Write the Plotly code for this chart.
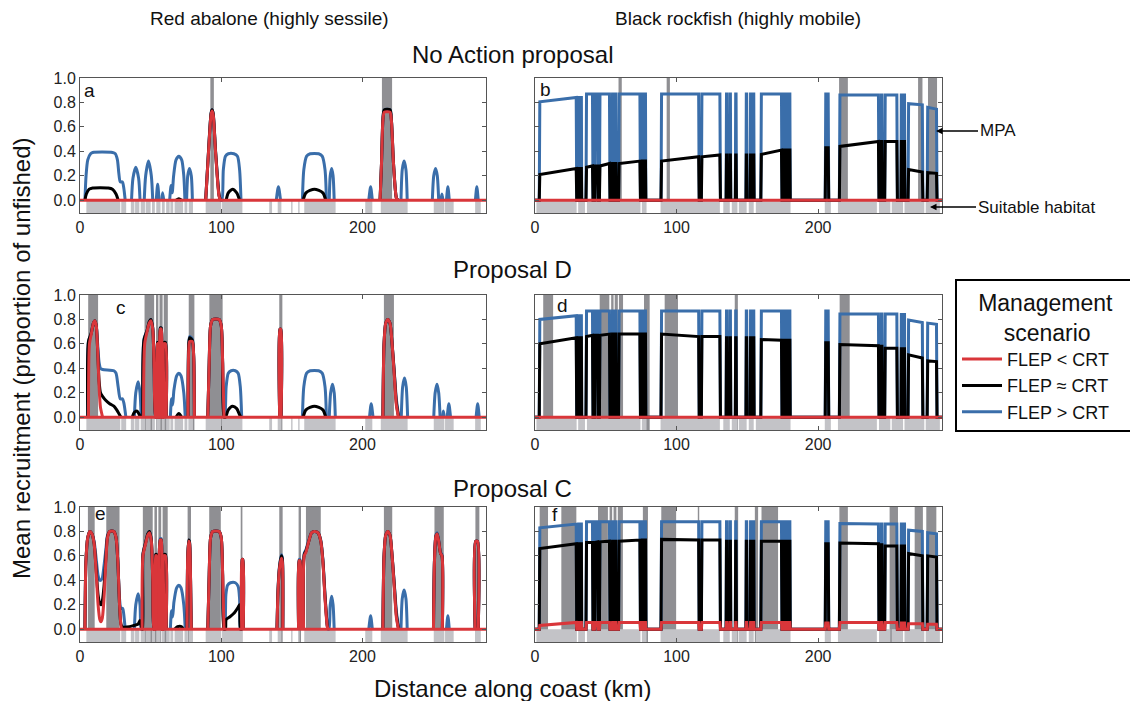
import plotly.graph_objects as go

# ---------------- DATA ----------------
# Abalone (sessile) curves: (km, mean recruitment) points
A_BLUE = [(0,0),(3.5,0),(4.3,0.2),(5.5,0.33),(7.5,0.38),(9,0.39),(23,0.39),(25,0.38),(26.5,0.33),(27.5,0.22),(28.5,0.15),(30,0.15),(31,0.1),(32,0),
          (36.5,0),(37.5,0.18),(39.5,0.27),(41.5,0.18),(42.5,0),
          (45.5,0),(46.5,0.2),(48.5,0.32),(50.5,0.2),(51.5,0),
          (54,0),(55,0.13),(56,0),(57.8,0),(58.5,0.06),(59.3,0),
          (63.5,0),(64.5,0.12),(65.3,0.06),(66.3,0.2),(68,0.33),(70,0.36),(72,0.33),(73.5,0.2),(74.3,0),
          (75.5,0),(76.3,0.2),(77.5,0.26),(78.8,0.2),(79.6,0),
          (89,0),(91,0.4),(92.8,0.71),(93.5,0.74),(94.3,0.71),(96,0.4),(98.5,0.04),(99.5,0),
          (100.5,0),(101.5,0.25),(103,0.36),(105,0.38),(109,0.38),(111.5,0.36),(113,0.25),(114,0),
          (139,0),(140.5,0.11),(142,0),
          (157.5,0),(158.5,0.25),(160.5,0.36),(163,0.38),(169,0.38),(171.5,0.36),(173.5,0.25),(174.5,0),
          (176.5,0),(177.2,0.2),(178.2,0.26),(179.2,0.2),(180,0),
          (204.5,0),(205.8,0.11),(207,0),
          (212.5,0),(213.5,0.3),(214.5,0.66),(215.5,0.74),(219.5,0.74),(220.5,0.66),(222,0.3),(224,0.02),(225,0),
          (227.3,0),(228.2,0.25),(229.5,0.32),(230.8,0.25),(231.7,0),
          (249.5,0),(250.5,0.2),(251.8,0.26),(253,0.2),(254,0),
          (255.5,0),(256.3,0.05),(257,0),
          (259.5,0),(260.5,0.11),(261.5,0),
          (280,0),(281,0.11),(282,0),(287.5,0)]
A_BLACK = [(0,0),(3.5,0),(4.5,0.05),(6.5,0.09),(9,0.1),(20,0.1),(23,0.09),(25.5,0.05),(27,0),
           (68,0),(70,0.012),(72,0),
           (89,0),(91,0.4),(92.8,0.71),(93.5,0.74),(94.3,0.71),(96,0.4),(98.5,0.04),(99.5,0),
           (103.5,0),(105,0.06),(108,0.09),(111,0.06),(113,0),
           (158,0),(160,0.06),(166,0.09),(172,0.06),(174,0),
           (212.5,0),(213.5,0.3),(214.5,0.66),(215.5,0.74),(219.5,0.74),(220.5,0.66),(222,0.3),(224,0.02),(225,0),(287.5,0)]
A_RED = [(0,0),(89,0),(91,0.39),(92.8,0.7),(93.5,0.73),(94.3,0.7),(96,0.39),(98.5,0.03),(99.5,0),
         (212.5,0),(213.5,0.3),(214.5,0.65),(215.5,0.72),(219.5,0.72),(220.5,0.65),(222,0.3),(224,0.02),(225,0),(287.5,0)]

C_RED = [(0,0),(6,0),(6.7,0.6),(8,0.68),(9.5,0.77),(10.5,0.79),(11.5,0.75),(12.5,0.55),(13.5,0.25),(14.5,0.08),(16,0),
         (45,0),(45.8,0.6),(47.5,0.7),(49,0.77),(50.2,0.79),(51.5,0.72),(52.5,0.4),(53.6,0),
         (54.3,0),(54.8,0.6),(55.3,0.6),(55.8,0),
         (56.3,0),(56.8,0.72),(57.6,0.72),(58.1,0),
         (59,0),(59.5,0.6),(60.5,0.6),(61,0),
         (76.5,0),(77,0.55),(77.7,0.62),(79.5,0.62),(80.5,0.5),(81,0),
         (90.5,0),(91.5,0.45),(92.5,0.75),(94,0.8),(98.5,0.8),(100,0.75),(101,0.45),(102,0),
         (141.4,0),(141.6,0.72),(142.2,0.72),(142.4,0),
         (214.5,0),(215.3,0.6),(216.5,0.77),(218,0.8),(219.5,0.77),(221,0.6),(222.5,0.35),(224,0.1),(225.5,0),(287.5,0)]
C_BLUE = [(0,0),(5.5,0),(6,0.62),(8,0.69),(9.5,0.77),(10.5,0.79),(11.5,0.75),(12.5,0.6),(13.5,0.45),(14.5,0.4),(16,0.39),(24,0.38),(25.5,0.36),(27,0.25),(28.5,0.15),(30,0.15),(31,0.12),(32.5,0),
          (38.5,0),(39.5,0.2),(41.2,0.29),(42.5,0.2),(43.3,0),
          (44.5,0),(45.3,0.64),(47.5,0.71),(49,0.78),(50.2,0.8),(51.5,0.73),(52.5,0.4),(53.6,0),
          (54.3,0),(54.8,0.61),(55.3,0.61),(55.8,0),
          (56.3,0),(56.8,0.73),(57.6,0.73),(58.1,0),
          (59,0),(59.5,0.61),(60.5,0.61),(61,0),
          (64,0),(64.8,0.15),(65.6,0.1),(66.5,0.22),(68.5,0.34),(70,0.36),(71.5,0.34),(73.5,0.2),(74.5,0),
          (76.5,0),(77,0.6),(77.7,0.66),(79.5,0.64),(80.5,0.5),(81,0),
          (90.5,0),(91.5,0.45),(92.5,0.75),(94,0.8),(98.5,0.8),(100,0.75),(101,0.45),(102,0),
          (102.5,0),(103.5,0.25),(105,0.36),(107,0.38),(110,0.38),(112,0.36),(113.5,0.25),(114.5,0),
          (141.4,0),(141.6,0.72),(142.2,0.72),(142.4,0),
          (157.5,0),(158.5,0.25),(160.5,0.36),(163,0.38),(169,0.38),(171.5,0.36),(173.5,0.25),(174.5,0),
          (176.5,0),(177.5,0.2),(178.8,0.27),(180,0.2),(180.8,0),
          (205,0),(206.2,0.11),(207.5,0),
          (214.5,0),(215.3,0.6),(216.5,0.77),(218,0.8),(219.5,0.77),(221,0.6),(222.5,0.38),(224,0.15),(225.8,0),
          (227.5,0),(228.5,0.25),(229.8,0.32),(231,0.25),(232,0),
          (250.5,0),(251.5,0.2),(252.8,0.27),(254,0.2),(255,0),
          (256.5,0),(257.3,0.05),(258,0),
          (260,0),(261.2,0.11),(262.4,0),
          (280.5,0),(281.6,0.11),(282.7,0),(287.5,0)]
C_BLACK = [(0,0),(5.5,0),(6,0.62),(8,0.69),(9.5,0.77),(10.5,0.79),(11.5,0.75),(12.5,0.55),(13.5,0.3),(14.5,0.2),(16,0.17),(18,0.14),(21,0.11),(24,0.09),(26,0.06),(28,0.02),(29,0),
           (37,0),(38.5,0.04),(40.5,0.05),(42,0.02),(43,0),
           (44.5,0),(45.3,0.63),(47.5,0.71),(49,0.78),(50.2,0.8),(51.5,0.73),(52.5,0.4),(53.6,0),
           (54.3,0),(54.8,0.61),(55.3,0.61),(55.8,0),
           (56.3,0),(56.8,0.73),(57.6,0.73),(58.1,0),
           (59,0),(59.5,0.61),(60.5,0.61),(61,0),
           (68,0),(70,0.03),(72,0),
           (76.5,0),(77,0.6),(77.7,0.65),(79.5,0.63),(80.5,0.5),(81,0),
           (90.5,0),(91.5,0.45),(92.5,0.75),(94,0.8),(98.5,0.8),(100,0.75),(101,0.45),(102,0),
           (103,0),(105,0.06),(108,0.09),(111,0.07),(113,0.02),(114,0),
           (141.4,0),(141.6,0.72),(142.2,0.72),(142.4,0),
           (158,0),(160,0.06),(166,0.09),(172,0.06),(174,0),
           (214.5,0),(215.3,0.6),(216.5,0.77),(218,0.8),(219.5,0.77),(221,0.6),(222.5,0.37),(224,0.12),(225.6,0),(287.5,0)]

E_RED = [(0,0),(3.5,0),(4.2,0.55),(5.5,0.75),(7,0.8),(8.5,0.78),(10,0.7),(11.5,0.45),(12.8,0.2),(14,0.08),(14.8,0.06),(15.8,0.09),(17,0.25),(18.3,0.55),(19.5,0.75),(21,0.8),(24,0.8),(25.5,0.75),(26.8,0.55),(28,0.2),(29,0.03),(29.5,0),
         (44,0),(44.6,0.6),(46.5,0.7),(48,0.77),(49.2,0.79),(50.5,0.72),(51.5,0.4),(52.4,0),
         (53.2,0),(53.6,0.6),(54.2,0.6),(54.7,0),
         (56.3,0),(56.8,0.73),(57.6,0.73),(58.1,0),
         (59,0),(59.5,0.6),(60.5,0.6),(61,0),
         (75.8,0),(76.3,0.6),(77,0.72),(77.6,0.7),(78.3,0.4),(78.8,0),
         (90.5,0),(91.5,0.45),(92.5,0.75),(94,0.8),(98.5,0.8),(100,0.75),(101,0.45),(102,0),
         (114.5,0),(114.8,0.57),(115.3,0.57),(115.6,0),
         (139.5,0),(140.2,0.3),(141.3,0.5),(142.6,0.58),(143.3,0.55),(143.6,0),
         (154.8,0),(155.2,0.56),(155.8,0.56),(156.2,0),
         (158.3,0),(158.8,0.6),(160,0.63),(162,0.72),(164,0.79),(166,0.8),(168.5,0.79),(170.5,0.72),(172,0.55),(173.5,0.25),(175,0.03),(175.5,0),
         (214.5,0),(215.3,0.6),(216.5,0.77),(218,0.8),(219.5,0.77),(221,0.6),(222.5,0.35),(224,0.1),(225.5,0),
         (250.3,0),(251,0.55),(252,0.76),(252.9,0.78),(254,0.72),(255.3,0.62),(256.3,0.6),(256.6,0),
         (279.8,0),(280.2,0.72),(281.5,0.72),(282,0),(287.5,0)]
E_BLUE = [(0,0),(3.5,0),(4.2,0.55),(5.5,0.75),(7,0.8),(8.5,0.78),(10,0.72),(11.5,0.57),(12.8,0.44),(14,0.4),(14.8,0.4),(15.8,0.42),(17,0.52),(18.3,0.65),(19.5,0.77),(21,0.8),(24,0.8),(25.5,0.75),(26.8,0.55),(28,0.25),(29,0.17),(30.2,0.17),(31,0.12),(32,0),
          (38.5,0),(39.5,0.2),(41.2,0.29),(42.5,0.2),(43.3,0),
          (44,0),(44.6,0.62),(46.5,0.71),(48,0.78),(49.2,0.8),(50.5,0.73),(51.5,0.4),(52.4,0),
          (53.2,0),(53.6,0.61),(54.2,0.61),(54.7,0),
          (56.3,0),(56.8,0.74),(57.6,0.74),(58.1,0),
          (59,0),(59.5,0.61),(60.5,0.61),(61,0),
          (64,0),(64.8,0.15),(65.6,0.1),(66.5,0.22),(68.5,0.34),(70,0.36),(71.5,0.34),(73.5,0.2),(74.5,0),
          (75.8,0),(76.3,0.6),(77,0.73),(77.6,0.71),(78.3,0.4),(78.8,0),
          (90.5,0),(91.5,0.45),(92.5,0.75),(94,0.8),(98.5,0.8),(100,0.75),(101,0.45),(102,0),
          (102.5,0),(103.3,0.28),(104.5,0.36),(106.5,0.38),(110,0.38),(112,0.35),(113,0.25),(113.6,0),
          (114.5,0),(114.8,0.57),(115.3,0.57),(115.6,0),
          (139.5,0),(140.2,0.32),(141.3,0.52),(142.6,0.61),(143.3,0.58),(143.6,0),
          (154.8,0),(155.2,0.57),(155.8,0.57),(156.2,0),
          (158.3,0),(158.8,0.62),(160,0.65),(162,0.73),(164,0.79),(166,0.8),(168.5,0.79),(170.5,0.73),(172,0.57),(173.5,0.28),(175,0.04),(175.5,0),
          (176.3,0),(177.2,0.2),(178.2,0.27),(179.2,0.2),(180,0),
          (204.5,0),(205.8,0.11),(207,0),
          (214.5,0),(215.3,0.6),(216.5,0.77),(218,0.8),(219.5,0.77),(221,0.6),(222.5,0.38),(224,0.15),(225.8,0),
          (227.3,0),(228.2,0.25),(229.5,0.32),(230.8,0.25),(231.7,0),
          (250.3,0),(251,0.57),(252,0.77),(252.9,0.79),(254,0.73),(255.3,0.63),(256.3,0.61),(256.6,0),
          (259.5,0),(260.5,0.11),(261.5,0),
          (279.8,0),(280.2,0.72),(281.5,0.72),(282,0),(287.5,0)]
E_BLACK = [(0,0),(3.5,0),(4.2,0.55),(5.5,0.75),(7,0.8),(8.5,0.78),(10,0.7),(11.5,0.48),(12.8,0.28),(14,0.21),(14.8,0.2),(15.8,0.23),(17,0.35),(18.3,0.58),(19.5,0.76),(21,0.8),(24,0.8),(25.5,0.75),(26.8,0.55),(28,0.2),(29,0.04),(30,0.02),(35,0.02),(38,0.03),(41,0.04),(42.5,0.07),(43.3,0.03),(44,0),
           (44.3,0),(44.6,0.61),(46.5,0.71),(48,0.78),(49.2,0.8),(50.5,0.73),(51.5,0.4),(52.4,0),
           (53.2,0),(53.6,0.61),(54.2,0.61),(54.7,0),
           (56.3,0),(56.8,0.73),(57.6,0.73),(58.1,0),
           (59,0),(59.5,0.61),(60.5,0.61),(61,0),
           (67,0),(69,0.02),(72,0.02),(73,0),
           (75.8,0),(76.3,0.6),(77,0.73),(77.6,0.71),(78.3,0.4),(78.8,0),
           (90.5,0),(91.5,0.45),(92.5,0.75),(94,0.8),(98.5,0.8),(100,0.75),(101,0.45),(102,0),
           (103,0),(103.5,0.08),(106,0.1),(109,0.13),(112,0.18),(113,0.2),(113.6,0),
           (114.5,0),(114.8,0.57),(115.3,0.57),(115.6,0),
           (139.5,0),(140.2,0.31),(141.3,0.51),(142.6,0.6),(143.3,0.57),(143.6,0),
           (154.8,0),(155.2,0.56),(155.8,0.56),(156.2,0),
           (158.3,0),(158.8,0.61),(160,0.64),(162,0.72),(164,0.79),(166,0.8),(168.5,0.79),(170.5,0.72),(172,0.56),(173.5,0.27),(175,0.04),(175.5,0),
           (214.5,0),(215.3,0.6),(216.5,0.77),(218,0.8),(219.5,0.77),(221,0.6),(222.5,0.37),(224,0.12),(225.6,0),
           (250.3,0),(251,0.56),(252,0.76),(252.9,0.78),(254,0.72),(255.3,0.62),(256.3,0.6),(256.6,0),
           (279.8,0),(280.2,0.72),(281.5,0.72),(282,0),(287.5,0)]

# Rockfish (mobile): habitat patches along the coast (km) where recruitment is non-zero
RF_START = [3, 30.6, 32.3, 36, 42, 45.5, 54.5, 56.5, 59, 75.5, 77.5, 89, 117.5, 135, 137.5, 141.5, 149, 152, 154,
            159.5, 175.5, 177.5, 179.5, 205, 215, 244.5, 247, 258.5, 260.5, 263.5, 277]
RF_END = [29.5, 31.3, 33.0, 41, 44.5, 53, 55.3, 57.3, 74.5, 76.3, 78.3, 116, 131, 135.8, 138.3, 142.3, 149.8, 152.8, 154.8,
          174.5, 176.3, 178.3, 180.3, 207.5, 243, 245.3, 256, 259.3, 261.3, 274, 284]
# recruitment at the start / end of each patch
B_BLUE_START = [0.805,0.84,0.84,0.87,0.87,0.87,0.87,0.87,0.87,0.87,0.87,0.87,0.87,0.87,0.87,0.87,0.87,0.87,0.87,0.87,0.87,0.87,0.87,0.87,0.86,0.86,0.86,0.86,0.86,0.79,0.76]
B_BLUE_END   = [0.84,0.84,0.84,0.87,0.87,0.87,0.87,0.87,0.87,0.87,0.87,0.87,0.87,0.87,0.87,0.87,0.87,0.87,0.87,0.87,0.87,0.87,0.87,0.87,0.86,0.86,0.86,0.86,0.86,0.78,0.745]
B_BLACK_START = [0.21,0.26,0.26,0.27,0.28,0.28,0.30,0.30,0.30,0.32,0.32,0.32,0.355,0.37,0.37,0.37,0.37,0.37,0.37,0.375,0.41,0.41,0.41,0.43,0.44,0.48,0.48,0.48,0.48,0.25,0.225]
B_BLACK_END   = [0.26,0.26,0.26,0.28,0.28,0.30,0.30,0.30,0.32,0.32,0.32,0.355,0.37,0.37,0.37,0.37,0.37,0.37,0.37,0.41,0.41,0.41,0.41,0.43,0.48,0.48,0.48,0.48,0.48,0.23,0.22]
D_BLUE_START = [0.80,0.83,0.83,0.87,0.87,0.87,0.87,0.87,0.87,0.87,0.87,0.87,0.87,0.87,0.87,0.87,0.87,0.87,0.87,0.87,0.87,0.87,0.87,0.87,0.845,0.845,0.845,0.84,0.84,0.795,0.77]
D_BLUE_END   = [0.83,0.83,0.83,0.87,0.87,0.87,0.87,0.87,0.87,0.87,0.87,0.87,0.87,0.87,0.87,0.87,0.87,0.87,0.87,0.87,0.87,0.87,0.87,0.87,0.845,0.845,0.845,0.84,0.84,0.775,0.76]
D_BLACK_START = [0.60,0.65,0.65,0.66,0.67,0.67,0.68,0.68,0.68,0.68,0.68,0.68,0.66,0.65,0.65,0.65,0.65,0.65,0.65,0.635,0.63,0.63,0.63,0.61,0.595,0.58,0.565,0.56,0.56,0.51,0.46]
D_BLACK_END   = [0.65,0.65,0.65,0.67,0.67,0.68,0.68,0.68,0.68,0.68,0.68,0.66,0.66,0.65,0.65,0.65,0.65,0.65,0.65,0.63,0.63,0.63,0.63,0.61,0.585,0.58,0.565,0.56,0.56,0.485,0.455]
F_BLUE_START = [0.83,0.86,0.86,0.88,0.88,0.88,0.88,0.88,0.88,0.88,0.88,0.88,0.88,0.88,0.88,0.88,0.88,0.88,0.88,0.88,0.88,0.88,0.88,0.88,0.865,0.86,0.86,0.86,0.86,0.81,0.79]
F_BLUE_END   = [0.86,0.86,0.86,0.88,0.88,0.88,0.88,0.88,0.88,0.88,0.88,0.88,0.88,0.88,0.88,0.88,0.88,0.88,0.88,0.88,0.88,0.88,0.88,0.88,0.86,0.86,0.86,0.86,0.86,0.80,0.78]
F_BLACK_START = [0.66,0.70,0.70,0.71,0.71,0.715,0.72,0.72,0.72,0.73,0.73,0.735,0.73,0.72,0.72,0.72,0.72,0.72,0.72,0.72,0.72,0.72,0.72,0.70,0.705,0.69,0.68,0.68,0.68,0.62,0.60]
F_BLACK_END   = [0.70,0.70,0.70,0.71,0.715,0.72,0.72,0.72,0.73,0.73,0.73,0.73,0.73,0.72,0.72,0.72,0.72,0.72,0.72,0.72,0.72,0.72,0.72,0.70,0.70,0.69,0.68,0.68,0.68,0.60,0.59]
F_RED_START = [0.03,0.055,0.055,0.055,0.055,0.055,0.055,0.055,0.055,0.055,0.055,0.055,0.055,0.055,0.055,0.055,0.055,0.055,0.055,0.055,0.055,0.055,0.055,0.05,0.055,0.055,0.055,0.05,0.05,0.045,0.04]
F_RED_END   = [0.055,0.055,0.055,0.055,0.055,0.055,0.055,0.055,0.055,0.055,0.055,0.055,0.055,0.055,0.055,0.055,0.055,0.055,0.055,0.055,0.055,0.055,0.055,0.05,0.055,0.055,0.055,0.05,0.05,0.045,0.04]
ZERO_LINE = [(0,0),(287.5,0)]

# Suitable habitat (km intervals)
ABALONE_HABITAT = [(4.5,28.5),(29.2,32.7),(36,38.5),(39,42),(43,46),(46.5,50),(51,53),(54,57),(58,60),(61,63.5),(64,66),
                   (67,73),(74,76),(77,80),(89,100),(100.6,115),(134,136),(140,142.6),(149.5,150.5),(154.5,155.5),
                   (158.8,181),(202,207),(213,232),(250.5,258),(258.5,264.6),(279.8,283.8)]
ROCKFISH_HABITAT = [(1,29.4),(30.5,35.3),(36.7,74.5),(75.5,78.8),(88.7,130.6),(133,137.6),(139,143),(144,149.5),
                    (151,154.5),(156,180.5),(204.7,209),(214,241.5),(243,251),(252,260),(261,275),(276,286)]
# MPAs (km intervals) per panel
MPA_A = [(92.3,94.8),(213.8,221)]
MPA_B = [(59,61.3),(93,95.3),(214.8,221),(270.6,273.7),(277.6,284)]
MPA_CD = [(5.8,12.8),(45.7,52.5),(53.8,55.5),(56.3,58.5),(59.3,62.2),(77,81),(91.6,101),(141.1,143.3),(215.2,222.3)]
MPA_E = [(5.6,10.4),(18.6,28),(44.5,51.5),(52.7,54.5),(55.5,57.5),(58.5,62.1),(76.2,78.6),(91.5,99.7),(113.8,115),
         (141.1,143.5),(154.8,156.5),(160,170.5),(215.2,221.1),(251,257.6),(280,282.8)]
MPA_F = [(3.3,9.2),(18.6,29.2),(44.5,51.5),(52.7,54.5),(55.5,57.5),(58.5,62.1),(76.2,79.8),(89.2,99.7),(115,116),
         (141.1,143.5),(155.3,157.6),(160,171.7),(215,221),(250.5,256.4),(268.2,274),(276.4,283.5)]

COL_TITLES = ["Red abalone (highly sessile)", "Black rockfish (highly mobile)"]
ROW_TITLES = ["No Action proposal", "Proposal D", "Proposal C"]
SCENARIOS = ["FLEP &lt; CRT", "FLEP ≈ CRT", "FLEP &gt; CRT"]
PANEL_LETTERS = ["a", "b", "c", "d", "e", "f"]
X_TICKS = [0, 100, 200]
Y_TICKS = [0.0, 0.2, 0.4, 0.6, 0.8, 1.0]

# ---------------- STYLE / LAYOUT ----------------
OFF = 8                      # page body margin
W, H = 1138 - OFF, 701 - OFF
BLUE, BLACK, RED = "#3a6eaa", "#000000", "#d9363a"
MPA_COLOR, HAB_COLOR = "#8f8f93", "#c3c3c7"
FONT = "Liberation Sans, Arial, Helvetica, sans-serif"
COLS = [(80, 486), (535, 942)]
ROWS = [(78, 213), (295, 430), (507, 642)]
XMAX = 287.5
YMIN, YMAX = -0.105, 1.0


def fx(px):
    return (px - OFF) / W


def fy(py):
    return 1 - (py - OFF) / H


def split(pts):
    """x / y lists; long flat zero stretches are broken so the spline does not bow."""
    xs, ys = [], []
    for k, (x, y) in enumerate(pts):
        if k > 0:
            px_, py_ = pts[k - 1]
            if py_ == 0 and y == 0 and x - px_ > 1.0:
                xs.append(None)
                ys.append(None)
        xs.append(x)
        ys.append(y)
    return xs, ys


def plain(pts):
    return [p[0] for p in pts], [p[1] for p in pts]


def patch_line(starts, ends, v0, v1, ramp=0.4):
    xs, ys = [0], [0]
    for s, e, a, b in zip(starts, ends, v0, v1):
        r = min(ramp, (e - s) / 3)
        xs += [s, s + r, e - r, e]
        ys += [0, a, b, 0]
    xs.append(XMAX)
    ys.append(0)
    return xs, ys


fig = go.Figure()

panels = [
    dict(kind="ab", blue=A_BLUE, black=A_BLACK, red=A_RED, mpa=MPA_A, hab=ABALONE_HABITAT),
    dict(kind="rf", blue=(B_BLUE_START, B_BLUE_END), black=(B_BLACK_START, B_BLACK_END), red=None, mpa=MPA_B, hab=ROCKFISH_HABITAT),
    dict(kind="ab", blue=C_BLUE, black=C_BLACK, red=C_RED, mpa=MPA_CD, hab=ABALONE_HABITAT),
    dict(kind="rf", blue=(D_BLUE_START, D_BLUE_END), black=(D_BLACK_START, D_BLACK_END), red=None, mpa=MPA_CD, hab=ROCKFISH_HABITAT),
    dict(kind="ab", blue=E_BLUE, black=E_BLACK, red=E_RED, mpa=MPA_E, hab=ABALONE_HABITAT),
    dict(kind="rf", blue=(F_BLUE_START, F_BLUE_END), black=(F_BLACK_START, F_BLACK_END), red=(F_RED_START, F_RED_END), mpa=MPA_F, hab=ROCKFISH_HABITAT),
]

shapes = []
annotations = []
layout_axes = {}
NB = "\u00a0"
for i, p in enumerate(panels):
    n = i + 1
    row, col = i // 2, i % 2
    xa = "x" if n == 1 else f"x{n}"
    ya = "y" if n == 1 else f"y{n}"
    for key, color, rank in [("blue", BLUE, 3), ("black", BLACK, 2), ("red", RED, 1)]:
        name = SCENARIOS[rank - 1] + NB * 4
        if p["kind"] == "ab":
            if key == "red":
                zx, zy = plain(ZERO_LINE)
                fig.add_trace(go.Scatter(x=zx, y=zy, mode="lines", xaxis=xa, yaxis=ya,
                                         line=dict(color=RED, width=3), showlegend=False, hoverinfo="skip"))
            xs, ys = split(p[key])
            line = dict(color=color, width=3, shape="spline", smoothing=0.7)
        else:
            if p[key] is None:
                xs, ys = plain(ZERO_LINE)
            else:
                xs, ys = patch_line(RF_START, RF_END, p[key][0], p[key][1])
            line = dict(color=color, width=3)
        fig.add_trace(go.Scatter(x=xs, y=ys, mode="lines", xaxis=xa, yaxis=ya, line=line, connectgaps=False,
                                 name=name, legendrank=rank, showlegend=(n == 1), hoverinfo="skip"))
    for (a, b) in p["hab"]:
        shapes.append(dict(type="rect", xref=xa, yref=ya, x0=a, x1=b, y0=YMIN, y1=0,
                           fillcolor=HAB_COLOR, line=dict(width=0), layer="below"))
    for (a, b) in p["mpa"]:
        shapes.append(dict(type="rect", xref=xa, yref=f"{ya} domain", x0=a, x1=b, y0=0, y1=1,
                           fillcolor=MPA_COLOR, line=dict(width=0), layer="below"))
    x0, x1 = COLS[col]
    y0, y1 = ROWS[row]
    axcommon = dict(showline=True, linecolor="#555555", linewidth=1, mirror="ticks", ticks="inside",
                    ticklen=4, tickcolor="#555555", showgrid=False, zeroline=False, automargin=False,
                    tickfont=dict(size=16, color="#222222", family=FONT))
    layout_axes["xaxis" if n == 1 else f"xaxis{n}"] = dict(
        domain=[fx(x0), fx(x1)], range=[0, XMAX], tickvals=X_TICKS, anchor=ya, **axcommon)
    layout_axes["yaxis" if n == 1 else f"yaxis{n}"] = dict(
        domain=[fy(y1), fy(y0)], range=[YMIN, YMAX], tickvals=Y_TICKS,
        ticktext=[f"{v:.1f}" for v in Y_TICKS], showticklabels=(col == 0), anchor=xa, **axcommon)


def text(t, x, y, size, **kw):
    d = dict(text=t, x=fx(x), y=fy(y), xref="paper", yref="paper", showarrow=False,
             xanchor="center", yanchor="middle", font=dict(size=size, family=FONT, color="#111111"))
    d.update(kw)
    annotations.append(d)


letter_pos = [(89, 91), (545, 90), (121, 307), (562, 305), (100, 513), (555, 514)]
for L, (lx, ly) in zip(PANEL_LETTERS, letter_pos):
    text(L, lx, ly, 19)
for t, cx in zip(COL_TITLES, [269, 738]):
    text(t, cx, 19, 19)
for t, cy in zip(ROW_TITLES, [55, 270, 488]):
    text(t, 512, cy, 24)
text("Distance along coast (km)", 512, 688, 24)
text("Mean recruitment (proportion of unfished)", 21, 358, 24, textangle=-90)
text("MPA", 936, 131, 17, showarrow=True, ax=42, ay=0, xanchor="left", arrowhead=2, arrowsize=1,
     arrowwidth=1.3, arrowcolor="black")
text("Suitable habitat", 930, 207, 17, showarrow=True, ax=46, ay=0, xanchor="left", arrowhead=2, arrowsize=1,
     arrowwidth=1.3, arrowcolor="black")

fig.update_layout(
    width=W, height=H, margin=dict(l=0, r=0, t=0, b=0, autoexpand=False),
    paper_bgcolor="white", plot_bgcolor="white",
    font=dict(family=FONT, color="#111111"),
    shapes=shapes, annotations=annotations,
    legend=dict(x=fx(955), y=fy(279), xanchor="left", yanchor="top", bordercolor="black", borderwidth=2,
                bgcolor="white", font=dict(size=18, family=FONT, color="#111111"),
                title=dict(text=NB * 3 + "Management<br>" + NB * 7 + "scenario", side="top",
                           font=dict(size=23, family=FONT)),
                itemwidth=40, tracegroupgap=4),
    **layout_axes,
)

fig.write_html("out.html")
